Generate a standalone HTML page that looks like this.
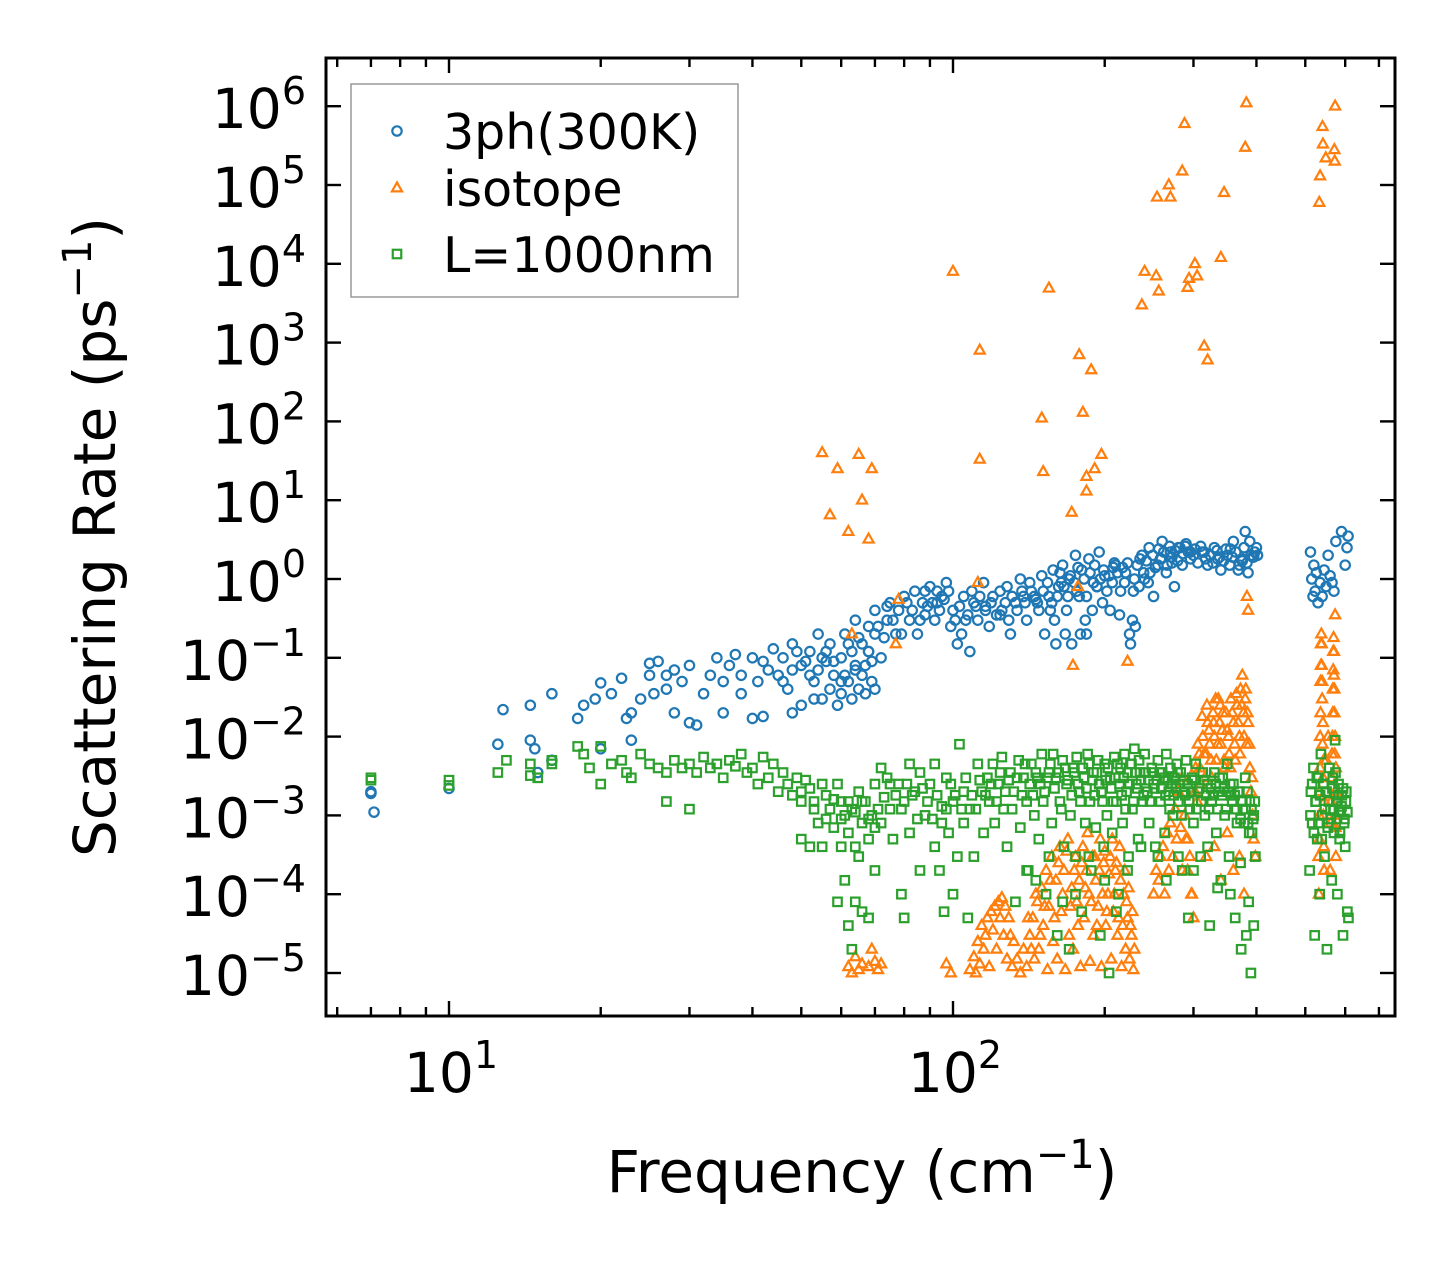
<!DOCTYPE html>
<html><head><meta charset="utf-8"><style>
html,body{margin:0;padding:0;background:#fff;}
svg{display:block;font-family:"DejaVu Sans","Liberation Sans",sans-serif;}
</style></head><body>
<svg id="chart" width="1455" height="1265" viewBox="0 0 1455 1265" xmlns="http://www.w3.org/2000/svg">
<defs><clipPath id="plotclip"><rect x="326" y="58" width="1069" height="958"/></clipPath></defs>
<rect x="0" y="0" width="1455" height="1265" fill="#fff"/>
<g id="marks" clip-path="url(#plotclip)"></g>
<g id="axes"></g>
<g id="legend"></g>
</svg>
<script>
const xTickExps = [1, 2];
const yTickExps = [-5, -4, -3, -2, -1, 0, 1, 2, 3, 4, 5, 6];
const seriesNames = ["3ph(300K)", "isotope", "L=1000nm"];

const blueFreq = [7,7,7.1,10,12.5,12.8,14.5,14.5,14.8,15,16,16,18,18.5,19.5,20,20,21,22,22.5,23,23,24,25,25,25.5,26,27,27,28,28,29,30,30,31,32,33,34,35,35,36,37,38,38,40,40,41,42,42,43,44,45,46,47,48,48,50,50,52,53,54,55,55,57,58,59,60,61,62,63,64,65,66,67,68,69,70,70,72,74,75,77,78,80,82,84,85,87,90,92,95,97,100,102,105,108,110,112,115,118,120,125,128,130,133,136,140,143,147,150,152,155,158,160,162,165,168,170,172,175,178,180,183,186,190,195,198,200,205,210,215,220,225,230,235,240,245,250,255,260,265,270,275,280,285,290,300,310,320,330,340,350,360,370,380,385,390,400,52,56,60,64,68,88,93,99,106,116,124,138,146,156,164,176,184,193,208,228,244,258,272,296,315,335,355,375,395,512,515,518,520,523,526,530,535,540,545,550,555,560,565,570,575,590,600,605,608,610];
const blueRate = [0.002,0.0019,0.0011,0.0022,0.008,0.022,0.009,0.025,0.007,0.0035,0.035,0.005,0.017,0.025,0.03,0.048,0.007,0.035,0.055,0.017,0.02,0.009,0.03,0.085,0.06,0.035,0.09,0.04,0.06,0.07,0.02,0.05,0.015,0.08,0.014,0.035,0.06,0.1,0.05,0.02,0.08,0.11,0.06,0.035,0.1,0.017,0.05,0.09,0.018,0.07,0.13,0.06,0.1,0.04,0.15,0.02,0.08,0.025,0.12,0.05,0.2,0.03,0.1,0.15,0.06,0.025,0.1,0.2,0.05,0.12,0.3,0.04,0.15,0.08,0.25,0.05,0.4,0.2,0.1,0.3,0.5,0.2,0.4,0.6,0.3,0.7,0.2,0.5,0.8,0.3,0.6,0.9,0.4,0.15,0.6,0.12,0.5,0.3,0.9,0.25,0.6,0.4,0.8,0.2,0.5,1.0,0.3,0.7,0.5,1.1,0.2,0.6,1.3,0.15,0.8,1.5,0.4,1.0,0.15,2.0,0.6,1.3,0.3,1.8,0.9,2.2,0.5,1.1,0.4,1.5,0.7,1.2,0.15,0.25,1.8,1.0,2.5,0.6,1.5,3.0,1.2,2.2,0.8,2.5,1.5,2.8,2.0,2.6,1.5,2.5,1.3,2.0,3.0,1.5,4.0,1.2,2.0,2.5,0.06,0.09,0.05,0.07,0.12,0.35,0.5,0.25,0.3,0.45,0.35,0.6,0.55,0.4,0.9,0.7,0.2,0.8,1.4,0.7,0.9,1.8,1.6,2.2,2.2,1.8,2.4,1.7,1.9,2.2,1.0,0.6,1.5,0.7,1.2,0.5,0.9,0.6,1.3,0.8,2.0,1.1,0.9,0.7,3.0,4.0,1.5,2.5,3.5];
const blueFreqB = [46,48,49,51,53,54,56,57,58,60,61,62,63,64,65,66,67,68,69,70,71,73,74,76,79,81,83,86,88,89,91,93,94,96,98,101,103,104,107,109,111,113,116,119,122,124,127,129,131,134,137,139,142,145,148,151,154,157,159,161,163,166,167,169,171,174,177,179,182,184,187,189,191,193,196,199,202,204,207,209,212,214,217,219,222,224,227,229,232,234,237,239,242,246,249,252,256,259,262,266,269,272,276,279,282,286,289,293,296,302,306,312,317,324,328,334,338,344,348,354,358,364,368,374,378,383,388,393,397,402];
const blueRateB = [0.05,0.07,0.12,0.09,0.03,0.07,0.12,0.04,0.09,0.035,0.06,0.15,0.03,0.08,0.18,0.06,0.035,0.12,0.09,0.04,0.25,0.18,0.45,0.3,0.2,0.5,0.4,0.3,0.7,0.45,0.5,0.7,0.4,0.55,0.7,0.3,0.45,0.2,0.35,0.7,0.45,0.6,0.4,0.5,0.35,0.7,0.5,0.3,0.6,0.4,0.7,0.5,0.9,0.6,0.4,0.7,0.9,0.5,0.3,0.6,1.2,0.8,0.2,0.6,1.1,0.9,1.4,0.2,1.0,0.6,1.2,0.4,1.5,0.8,1.0,1.3,0.7,1.1,0.9,1.6,1.2,0.35,1.4,0.9,1.6,0.2,0.3,1.0,1.5,0.8,2.0,1.2,1.7,1.2,2.0,1.4,2.4,1.8,2.2,1.5,2.6,1.9,2.3,1.7,2.5,2.1,2.6,2.2,1.8,2.4,1.6,2.2,1.8,2.0,1.6,2.3,1.9,1.7,2.4,1.5,1.9,2.2,1.3,1.8,2.5,1.6,3.0,1.9,2.2,2.0];

const orangeFreq = [55,57,59,62,65,66,68,69,63,78,77,100,113,113,112,155,150,151,172,178,181,184,184,188,191,197,177,173,222,237,240,253,256,254,270,268,285,288,292,294,302,305,315,320,340,345,382,380,383,385,533,535,541,542,549,573,571,573,572,
62,63,64,65,66,68,69,70,71,72,97,99,108,110,111,112,113,114,115,116,117,118,119,120,121,122,123,124,125,126,127,128,129,130,131,132,134,136,138,140,142,144,145,147,148,150,151,153,154,155,157,158,160,161,163,164,166,167,169,170,172,173,175,176,178,179,181,182,184,186,187,189,190,192,194,196,197,199,201,203,205,206,208,210,212,214,216,218,220,222,224,226,228,250,253,256,258,261,263,266,268,270,273,276,278,280,283,285,288,290,292,295,298,300,303,305,308,310,313,316,318,320,323,326,328,330,333,336,338,340,343,346,350,353,356,360,363,366,370,372,375,377,380,382,385,388,390,393,395,398,532,533,534,535,536,537,538,539,540,541,542,543,544,545,560,562,564,566,567,568,569,570,571,572,573,574,575,550,555];
const orangeRate = [40,6.5,25,4,38,10,3.2,25,0.2,0.55,0.15,8000,800,33,0.9,4900,110,23,7,700,130,20,13,450,25,38,0.8,0.08,0.09,3000,8000,7000,4500,70000,70000,100000,150000,600000,5000,6500,10000,7000,900,600,12000,80000,1100000,300000,0.6,0.4,60000,130000,550000,330000,220000,1000000,280000,0.35,200000,
1.2e-5,1e-5,1.6e-5,1.1e-5,1.3e-5,1.2e-5,2e-5,1.4e-5,1.1e-5,1.3e-5,1.3e-5,1e-5,1.1e-5,1.6e-5,1e-5,2.5e-5,1.3e-5,4e-5,2e-5,3e-5,5e-5,1.2e-5,6e-5,3.5e-5,7e-5,2e-5,8e-5,5e-5,9e-5,3e-5,7e-5,1.5e-5,5e-5,3e-5,1.2e-5,2.5e-5,1.5e-5,1e-5,2e-5,1.2e-5,3e-5,5e-5,1.5e-5,8e-5,2e-5,1.2e-4,4e-5,2e-4,1.1e-5,7e-5,3e-4,2.5e-5,1.5e-4,1.5e-5,4e-4,6e-5,2e-4,1.1e-5,5e-4,3e-5,1.2e-4,2e-5,3e-4,8e-5,1.5e-4,1.2e-5,4e-4,5e-5,2e-4,1e-4,1.4e-5,3e-4,3e-5,1.5e-4,7e-5,5e-4,1.2e-5,2.5e-4,4e-5,1e-4,3e-4,1.5e-5,6e-5,2e-4,3e-5,4e-4,1.2e-5,1e-4,2e-5,5e-5,1.5e-5,3e-5,1.1e-5,1e-4,2e-4,1.5e-4,3e-4,4e-4,1e-4,6e-4,2e-4,8e-4,3e-4,1.2e-3,5e-4,2e-3,7e-4,3e-3,1e-3,5e-4,2e-4,3e-4,1e-4,5e-5,4e-3,1.5e-3,6e-3,2.5e-3,1e-2,3e-3,6e-3,1.5e-2,8e-3,3e-3,2e-2,1e-2,5e-3,3e-2,1.5e-2,8e-3,2e-2,4e-3,1.2e-2,6e-3,3e-2,1.5e-2,5e-3,2.5e-2,1e-2,4e-2,6e-2,2e-2,3e-2,8e-3,1.5e-2,4e-3,2e-3,1e-3,5e-4,3e-4,1e-4,5e-4,2e-3,1e-2,5e-2,0.15,0.2,0.08,0.03,8e-3,3e-3,1e-3,4e-4,2e-4,2e-4,8e-4,3e-3,1e-2,4e-2,0.12,0.18,0.06,0.02,6e-3,2e-3,7e-4,3e-4,0.005,0.01];
const orangeFreqB = [141,143,146,149,152,156,159,162,165,168,171,174,177,180,183,185,188,191,193,195,198,200,202,204,207,209,211,213,215,217,219,221,223,225,227,229,302,306,309,312,315,319,322,325,329,332,335,339,342,345,348,352,355,358,362,365,368,371,374,378,381,384,387,392,285,292,297,318,330,340,350,360,370,378,531,533,535,536,537,539,540,542,544,546,563,565,567,568,570,571,573,575,576];
const orangeRateB = [5e-5,2e-5,1e-4,3e-5,7e-5,1.5e-4,5e-5,2.5e-4,1e-4,3.5e-4,7e-5,2e-4,4e-5,2.5e-4,1.2e-4,6e-4,8e-5,3e-4,4e-5,2e-4,1e-4,3.5e-4,6e-5,1.8e-4,5e-4,1e-4,2.5e-4,5e-5,1.5e-4,4e-5,2e-4,8e-5,1.2e-4,4e-5,6e-5,2e-5,2e-3,8e-3,4e-3,1.8e-2,6e-3,2.5e-2,1.2e-2,5e-3,1.5e-2,3e-2,8e-3,2.5e-2,1.2e-2,5e-3,2e-2,1e-2,4e-3,2e-2,8e-3,3.5e-2,1.5e-2,6e-3,2.5e-2,1e-2,4e-2,2e-2,8e-3,3e-3,2e-4,5e-4,1e-4,3e-4,4e-4,1.5e-4,6e-4,2e-4,3e-4,1e-4,3e-4,1e-3,4e-3,2e-2,8e-2,1.5e-1,5e-2,1.5e-2,5e-3,1.5e-3,1.5e-3,6e-3,2e-2,7e-2,0.12,4e-2,1e-2,4e-3,1e-3];

const greenFreq = [7,7,10,10,12.5,13,14.5,14.5,15,16,16,18,18.5,19,20,20,21,22,22.5,23,24,25,26,27,27,28,29,30,30,31,32,33,34,35,36,37,38,39,40,41,42,43,44,45,46,47,48,49,50,50,51,52,52,53,54,55,55,56,57,58,59,59,60,60,61,61,62,62,63,63,64,64,65,65,66,66,67,68,68,69,70,70,72,72,74,75,76,78,79,80,80,82,82,84,86,86,88,90,92,92,94,95,96,97,98,100,100,102,103,105,105,107,108,110,112,114,115,117,118,120,121,123,125,126,128,130,132,133,135,136,138,140,141,143,145,147,148,150,152,153,155,157,158,160,161,163,165,166,168,170,171,173,175,176,178,180,181,183,185,187,188,190,192,194,196,197,199,200,202,204,205,207,209,211,213,215,217,219,221,223,225,227,229,231,233,235,238,240,243,245,248,250,252,255,258,260,263,265,268,270,273,275,278,280,283,285,288,290,293,295,298,300,303,306,310,313,316,320,323,326,330,333,336,340,343,346,350,353,356,360,363,366,370,373,376,380,382,385,388,390,392,395,398,510,513,516,519,522,525,528,531,534,537,540,543,546,549,552,555,558,561,564,567,570,573,576,579,582,585,588,591,594,597,600,603,606,609];
const greenRate = [0.003,0.0028,0.0028,0.0024,0.0035,0.005,0.0032,0.0045,0.003,0.0045,0.005,0.0075,0.006,0.004,0.0025,0.0075,0.0045,0.005,0.0035,0.003,0.006,0.0045,0.004,0.0035,0.0015,0.005,0.004,0.0012,0.0045,0.0035,0.0055,0.004,0.0045,0.003,0.005,0.0042,0.006,0.0035,0.004,0.0025,0.0055,0.003,0.0045,0.002,0.0035,0.0025,0.0018,0.003,0.0005,0.0015,0.0028,0.0004,0.0022,0.0012,0.0008,0.0004,0.0025,0.0018,0.0012,0.0007,0.00008,0.0025,0.0004,0.0015,0.00015,0.001,0.00004,0.0006,0.00002,0.0012,0.00008,0.0004,0.002,0.0003,0.00006,0.0008,0.0015,0.00005,0.0005,0.001,0.0025,0.0002,0.004,0.0008,0.003,0.0012,0.0005,0.0025,0.0001,0.00005,0.0015,0.0045,0.0006,0.002,0.0035,0.0002,0.001,0.0025,0.0045,0.0004,0.0002,0.0013,0.00006,0.003,0.0006,0.0015,0.0001,0.0003,0.008,0.0008,0.002,0.00005,0.0012,0.0003,0.0045,0.002,0.0006,0.003,0.0015,0.0045,0.0008,0.0025,0.0055,0.0012,0.0004,0.0035,0.002,0.00008,0.005,0.0007,0.003,0.0015,0.0002,0.0045,0.001,0.003,0.0005,0.006,0.002,0.0001,0.0035,0.0008,0.006,0.003,0.00003,0.0015,0.005,0.0004,0.0025,0.00002,0.001,0.004,0.0003,0.0055,0.002,0.00006,0.004,0.0008,0.006,0.0015,0.0002,0.0035,0.0007,0.005,0.00003,0.002,0.0004,0.0045,0.001,0.00001,0.003,0.0006,0.0055,0.0015,0.0001,0.004,0.0008,0.006,0.002,0.0003,0.0045,0.0012,0.007,0.0025,0.0005,0.0035,0.0015,0.006,0.002,0.0008,0.004,0.0025,0.0004,0.005,0.0015,0.0035,0.0006,0.006,0.002,0.004,0.001,0.003,0.0045,0.0015,0.0035,0.0002,0.002,0.005,0.00005,0.0012,0.003,0.0008,0.0045,0.002,0.0003,0.0035,0.001,0.0025,0.00004,0.0015,0.0035,0.0006,0.002,0.00015,0.003,0.001,0.0045,0.0003,0.0018,0.0025,0.00005,0.0008,0.002,0.00002,0.0012,0.003,0.00003,0.0008,0.0015,0.00001,0.0006,0.001,0.0003,0.0002,0.002,0.0008,0.004,0.00003,0.0015,0.0005,0.003,0.0001,0.006,0.001,0.0025,0.0003,0.002,0.00002,0.0008,0.004,0.0012,0.00015,0.003,0.0006,0.009,0.0015,0.0001,0.0025,0.0005,0.0011,0.0018,0.00003,0.0008,0.0004,0.002,0.00006,0.00005];
const greenFreqB = [50,53,56,58,60,62,64,66,68,70,71,73,75,77,79,81,83,85,87,89,91,93,95,97,99,101,104,106,109,111,113,116,119,122,124,127,129,131,134,137,139,142,144,146,149,151,154,156,159,162,164,167,169,172,174,177,179,182,184,186,189,191,193,195,198,201,203,206,208,210,212,214,216,218,220,222,224,226,228,230,232,234,236,239,241,244,246,249,251,254,257,259,262,264,267,269,272,274,277,279,282,284,287,289,292,294,297,301,304,308,311,315,318,322,325,328,332,335,338,342,345,348,352,355,358,362,365,368,372,375,378,381,384,387,391,394,397,140,146,155,165,175,186,200,211,222,236,255,265,280,300,320,335,355,372,386,395,512,516,520,524,527,531,535,539,543,547,551,554,557,562,566,570,574,578,582,586,590,594,598,602,606];
const greenRateB = [0.002,0.0015,0.0009,0.0016,0.0009,0.0015,0.0011,0.0015,0.0009,0.0007,0.0012,0.0017,0.0025,0.0018,0.0012,0.0025,0.0018,0.0009,0.0022,0.0015,0.0009,0.0018,0.0008,0.0012,0.0025,0.0018,0.0012,0.003,0.0018,0.0012,0.0028,0.0018,0.0025,0.0015,0.0035,0.002,0.0028,0.0012,0.003,0.0018,0.0045,0.0025,0.0018,0.0035,0.0025,0.0015,0.003,0.0045,0.0022,0.0035,0.0012,0.004,0.0028,0.0018,0.0035,0.0025,0.0015,0.003,0.0022,0.0045,0.0028,0.0018,0.0035,0.0025,0.0015,0.0028,0.004,0.0022,0.0015,0.003,0.0045,0.0025,0.0018,0.003,0.0012,0.0035,0.0025,0.0045,0.0015,0.0035,0.0022,0.005,0.0028,0.0018,0.0035,0.0028,0.0015,0.0035,0.0022,0.0028,0.0035,0.0022,0.003,0.0018,0.0028,0.0012,0.0025,0.0018,0.0022,0.0035,0.0025,0.001,0.0028,0.0018,0.0025,0.0015,0.002,0.0028,0.0012,0.0022,0.0015,0.0028,0.0018,0.0012,0.0022,0.0018,0.0025,0.0012,0.003,0.0018,0.0022,0.0012,0.002,0.0025,0.0015,0.0018,0.0012,0.002,0.0009,0.0015,0.0008,0.0012,0.002,0.0006,0.0012,0.0009,0.0015,0.0002,0.00015,0.0003,0.00008,0.0001,0.0003,0.00015,0.00006,0.0002,0.0004,0.0003,0.00015,0.0003,0.0002,0.0004,0.00012,0.0001,0.00025,0.00008,0.00004,0.001,0.0025,0.0006,0.0015,0.003,0.0008,0.0018,0.0005,0.0025,0.0012,0.002,0.0007,0.0015,0.0009,0.0022,0.0012,0.0035,0.0009,0.0018,0.0006,0.0013,0.0022,0.0009,0.0015,0.0011];

const L = 326, R = 1395, T = 58, B = 1016;
const X10 = 449, DEC_X = 504;
const Y0 = 973, DEC_Y = 78.8;
function xScale(f){ return X10 + DEC_X*(Math.log10(f)-1); }
function yScale(v){ return Y0 - DEC_Y*(Math.log10(v)+5); }

const NS = "http://www.w3.org/2000/svg";
function mk(tag, attrs, parent){
  const e = document.createElementNS(NS, tag);
  for (const k in attrs) e.setAttribute(k, attrs[k]);
  parent.appendChild(e);
  return e;
}
const marks = document.getElementById('marks');
const axes = document.getElementById('axes');
const legend = document.getElementById('legend');
const BLUE="#1f77b4", ORANGE="#ff7f0e", GREEN="#2ca02c";
const SW = 2.2;

function circle(cx, cy, parent){
  return mk('circle', {cx:cx, cy:cy, r:4.7, fill:'none', stroke:BLUE, 'stroke-width':SW}, parent);
}
function tri(cx, cy, parent){
  const s = 5.6;
  return mk('polygon', {points:`${cx},${cy-s} ${cx-s*0.9},${cy+s*0.6} ${cx+s*0.9},${cy+s*0.6}`, fill:'none', stroke:ORANGE, 'stroke-width':SW}, parent);
}
function sq(cx, cy, parent){
  const s = 8.5;
  return mk('rect', {x:cx-s/2, y:cy-s/2, width:s, height:s, fill:'none', stroke:GREEN, 'stroke-width':SW}, parent);
}

const gB = mk('g', {}, marks);


const gO = mk('g', {}, marks);


const gG = mk('g', {}, marks);



function drawSeries(fs, rs, fn, g, name){
  const n = Math.min(fs.length, rs.length);
  for (let i=0;i<n;i++){
    const e = fn(xScale(fs[i]), yScale(rs[i]), g);
    
    
  }
}
drawSeries(blueFreq, blueRate, circle, gB, 'point-3ph');
drawSeries(blueFreqB, blueRateB, circle, gB, 'point-3ph');
drawSeries(orangeFreq, orangeRate, tri, gO, 'point-isotope');
drawSeries(orangeFreqB, orangeRateB, tri, gO, 'point-isotope');
drawSeries(greenFreq, greenRate, sq, gG, 'point-boundary');
drawSeries(greenFreqB, greenRateB, sq, gG, 'point-boundary');

const frame = mk('rect', {x:L, y:T, width:R-L, height:B-T, fill:'none', stroke:'#000', 'stroke-width':3}, axes);



for (let d=0; d<=2; d++){
  for (let m=1; m<=9; m++){
    const f = m*Math.pow(10,d);
    const x = xScale(f);
    if (x < L+2 || x > R-2) continue;
    const len = (m===1)?15:9;
    mk('line', {x1:x, y1:B, x2:x, y2:B-len, stroke:'#000', 'stroke-width':2.4}, axes);
    mk('line', {x1:x, y1:T, x2:x, y2:T+len, stroke:'#000', 'stroke-width':2.4}, axes);
  }
}
xTickExps.forEach(function(p){
  const x = xScale(Math.pow(10,p));
  const t = mk('text', {x:x+2, y:1092, 'text-anchor':'middle', 'font-size':55}, axes);
  
  
  t.innerHTML = '10<tspan dy="-24" font-size="38">'+p+'</tspan>';
});
yTickExps.forEach(function(p){
  const y = yScale(Math.pow(10,p));
  mk('line', {x1:L, y1:y, x2:L+15, y2:y, stroke:'#000', 'stroke-width':2.4}, axes);
  mk('line', {x1:R, y1:y, x2:R-15, y2:y, stroke:'#000', 'stroke-width':2.4}, axes);
  const t = mk('text', {x:306, y:y+22, 'text-anchor':'end', 'font-size':55}, axes);
  
  
  const ps = p<0 ? '\u2212'+(-p) : ''+p;
  t.innerHTML = '10<tspan dy="-24" font-size="38">'+ps+'</tspan>';
});

const xt = mk('text', {x:862, y:1192, 'text-anchor':'middle', 'font-size':58}, axes);


xt.innerHTML = 'Frequency (cm<tspan dy="-24" font-size="40">\u22121</tspan><tspan dy="24">)</tspan>';
const yt = mk('text', {x:0, y:0, 'text-anchor':'middle', 'font-size':58, transform:'translate(115,537) rotate(-90)'}, axes);


yt.innerHTML = 'Scattering Rate (ps<tspan dy="-24" font-size="40">\u22121</tspan><tspan dy="24">)</tspan>';

const lb = mk('rect', {x:351, y:84, width:387, height:213, fill:'#fff', stroke:'#999', 'stroke-width':1.5}, legend);


const ly = [132, 189, 255];
const drawers = [circle, tri, sq];
for (let i=0;i<3;i++){
  const g = mk('g', {}, legend);
  
  
  drawers[i](397, ly[i]-1, g);
  const t = mk('text', {x:443, y:ly[i]+17, 'font-size':49}, g);
  t.textContent = seriesNames[i];
}
</script>
</body></html>
